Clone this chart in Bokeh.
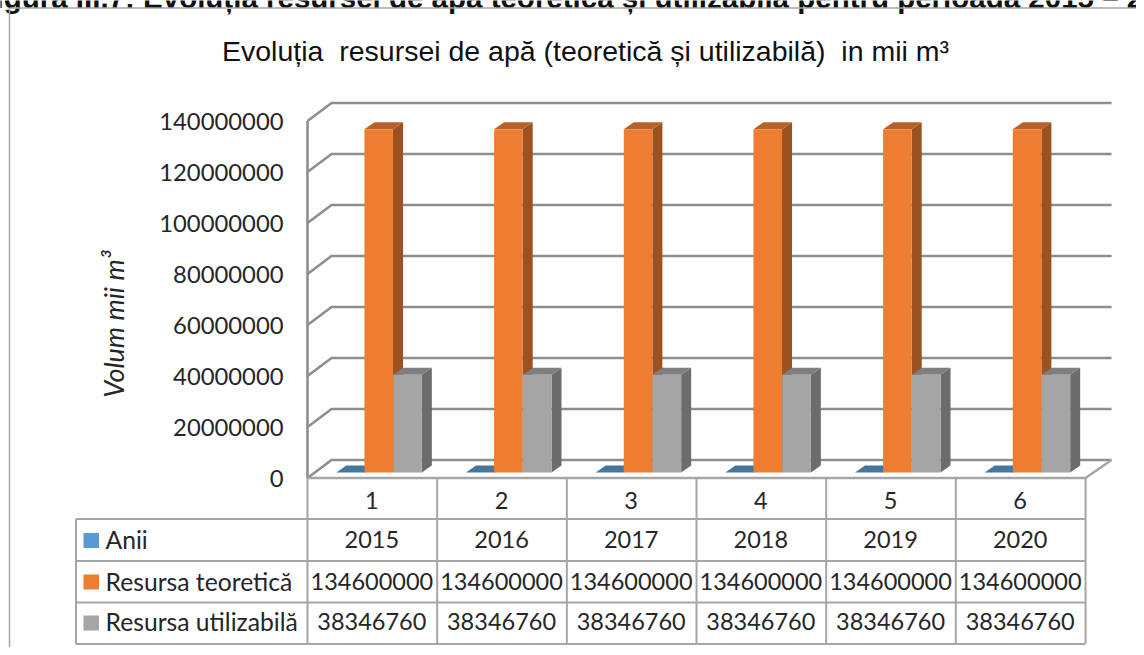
from bokeh.plotting import figure
from bokeh.models import ColumnDataSource, Range1d, FixedTicker, BasicTickFormatter
from bokeh.core.properties import value
from bokeh.embed import file_html
from bokeh.resources import INLINE
import numpy as np

# ---- data -------------------------------------------------------------
caption_text = "Figura III.7: Evoluția resursei de apă teoretică și utilizabilă pentru perioada 2015 –  2020"
title_text = "Evoluția\u00a0 resursei de apă (teoretică și utilizabilă)\u00a0 in mii m³"
y_title = "Volum mii m³"
categories = [1, 2, 3, 4, 5, 6]
anii = [2015, 2016, 2017, 2018, 2019, 2020]
teoretica = [134600000] * 6
utilizabila = [38346760] * 6
series_names = ["Anii", "Resursa teoretică", "Resursa utilizabilă"]
y_ticks = [0, 20000000, 40000000, 60000000, 80000000, 100000000, 120000000, 140000000]

# ---- layout (picture pixels -> data) -----------------------------------
W, H = 1136, 647
COL = 129.67            # px per category
LEFT = 307.0            # x of the front-left corner
ZERO = 477.5            # y of value 0 at the front
VPP = 20000000 / 51.0   # value per pixel


def xd(px):
    return 1 + (np.asarray(px, dtype=float) - (LEFT + COL / 2)) / COL


def yd(py):
    return (ZERO - np.asarray(py, dtype=float)) * VPP


FONT = value("Lato")
GRID = "#8e8e8e"
TABLE = "#a6a6a6"
INK = "#262626"
BLUE, BLUE_TOP = "#5b9bd5", "#44769f"
ORANGE, ORANGE_SIDE, ORANGE_TOP = "#ed7d31", "#9c5120", "#b8602a"
GRAY, GRAY_SIDE, GRAY_TOP = "#a5a5a5", "#6c6c6c", "#7f7f7f"

p = figure(width=W, height=H, toolbar_location=None, output_backend="svg",
           x_range=Range1d(float(xd(0)), float(xd(W))),
           y_range=Range1d(float(yd(H)), float(yd(0))),
           x_axis_location=None, y_axis_location="left",
           min_border=0, outline_line_color=None)
p.grid.visible = False

# y axis, fixed inside the frame at the left wall
ax = p.yaxis[0]
ax.fixed_location = float(xd(LEFT))
ax.ticker = FixedTicker(ticks=y_ticks)
ax.formatter = BasicTickFormatter(use_scientific=False)
ax.axis_line_color = None
ax.major_tick_line_color = None
ax.minor_tick_line_color = None
ax.major_label_standoff = 18
ax.major_label_text_font = "Lato"
ax.major_label_text_font_size = "23.8px"
ax.major_label_text_color = INK
ax.axis_label = y_title
ax.axis_label_text_font = "Lato"
ax.axis_label_text_font_style = "italic"
ax.axis_label_text_font_size = "27px"
ax.axis_label_text_color = INK
ax.axis_label_standoff = 26

# clipped caption above the chart object
p.text([float(xd(-23))], [float(yd(-3))], text=[caption_text],
       text_font=value("Liberation Sans"), text_font_size="29.5px", text_font_style="bold",
       text_align="left", text_baseline="alphabetic", text_color="#111111")

# outer frame of the chart object
p.line(xd([9, 9]), yd([7.5, 647]), line_color="#a6a6a6", line_width=1.5)
p.line(xd([9, 1136]), yd([7.5, 7.5]), line_color="#a6a6a6", line_width=1.5)

# back wall + side wall
DX_W, DY_W = 24.0, 18.0
ticks = np.array(y_ticks, dtype=float)
back_y = ticks + DY_W * VPP
right_back = float(xd(LEFT + 6 * COL + 26))
left_back = float(xd(LEFT + DX_W))
left_front = float(xd(LEFT))
p.multi_line([[left_front, left_back, right_back]] * len(ticks),
             [[t, b, b] for t, b in zip(ticks, back_y)],
             line_color=GRID, line_width=2.6)
p.line([left_front, left_front], [0, y_ticks[-1]], line_color=GRID, line_width=2.6)
# floor
front_right = float(xd(LEFT + 6 * COL))
p.line([left_front, front_right, right_back], [0, 0, DY_W * VPP], line_color=TABLE, line_width=2.6)

# 3D bars
cat = np.array(categories, dtype=float)
BW = 28.6 / COL
DX, DY = 10.0 / COL, 7.0 * VPP
BASE = 5.5 * VPP


def bar3d(vals, offs, front, side, top):
    l = cat + offs / COL
    r = l + BW
    b = np.full(6, BASE)
    t = b + np.array(vals, dtype=float)
    p.patches([[ri, ri + DX, ri + DX, ri] for ri in r],
              [[bi, bi + DY, ti + DY, ti] for bi, ti in zip(b, t)],
              fill_color=side, line_color=None)
    p.patches([[li, li + DX, ri + DX, ri] for li, ri in zip(l, r)],
              [[ti, ti + DY, ti + DY, ti] for ti in t],
              fill_color=top, line_color=None)
    p.quad(left=l, right=r, bottom=b, top=t, fill_color=front, line_color=None)


bar3d(anii, -36.0, BLUE, BLUE_TOP, BLUE_TOP)
bar3d(teoretica, -7.9, ORANGE, ORANGE_SIDE, ORANGE_TOP)
bar3d(utilizabila, 20.9, GRAY, GRAY_SIDE, GRAY_TOP)

# data table
row_lines = [518.5, 560.5, 602.0, 643.5]
p.multi_line([[float(xd(75.5)), front_right]] * 4,
             [[float(yd(r)), float(yd(r))] for r in row_lines],
             line_color=TABLE, line_width=2)
p.multi_line([[float(xd(75.5))] * 2], [[float(yd(518.5)), float(yd(643.5))]],
             line_color=TABLE, line_width=2)
p.multi_line([[float(xd(LEFT + COL * i))] * 2 for i in range(7)],
             [[0.0, float(yd(643.5))] for i in range(7)],
             line_color=TABLE, line_width=2)

rows = [(categories, 500.0), (anii, 539.0), (teoretica, 580.5), (utilizabila, 621.0)]
for vals, py in rows:
    src = ColumnDataSource(dict(x=cat - 0.5 / COL, y=[float(yd(py))] * 6, t=[str(v) for v in vals]))
    p.text("x", "y", text="t", source=src, text_font=FONT, text_font_size="23.5px",
           text_align="center", text_baseline="middle", text_color=INK)

for name, ky, ty, col in zip(series_names, [540.0, 581.5, 622.5], [539.0, 580.5, 621.0], [BLUE, ORANGE, GRAY]):
    p.quad(left=[float(xd(83))], right=[float(xd(98.5))],
           bottom=[float(yd(ky + 7.5))], top=[float(yd(ky - 7.5))],
           fill_color=col, line_color=None)
    p.text([float(xd(105))], [float(yd(ty))], text=[name], text_font=FONT,
           text_font_size="24.7px", text_align="left", text_baseline="middle", text_color=INK)

# title
p.text([float(xd(585))], [float(yd(50))], text=[title_text],
       text_font=value("Liberation Sans"), text_font_size="28.5px",
       text_align="center", text_baseline="middle", text_color="#111111")

open("out.html", "w").write(file_html(p, INLINE))
